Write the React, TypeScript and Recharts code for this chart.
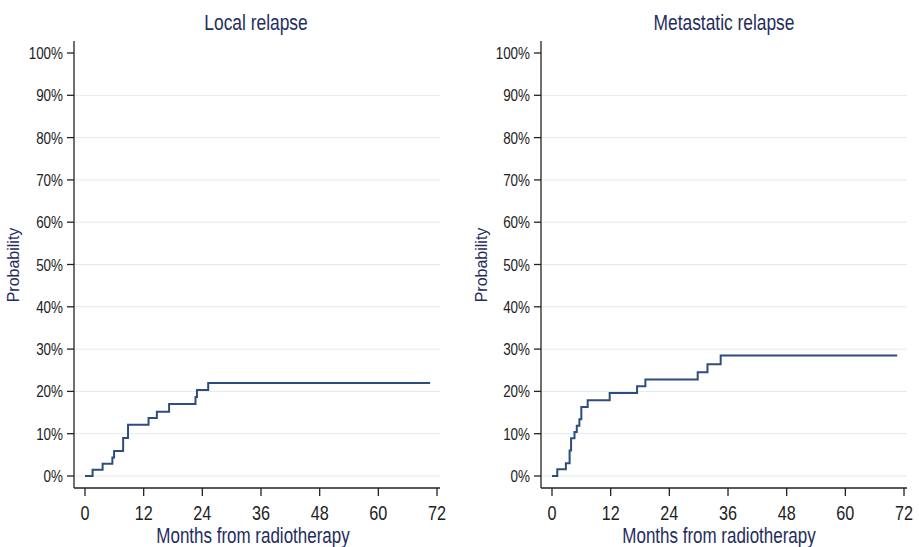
import React from 'react';
import { LineChart, Line, XAxis, YAxis, ReferenceLine } from 'recharts';

const localMonths = [0, 1.55, 3.6, 5.6, 5.95, 7.8, 8.8, 13.0, 14.7, 17.2, 22.6, 22.9, 25.2, 70.6];
const localProb = [0, 1.5, 2.9, 4.4, 5.9, 9.0, 12.1, 13.7, 15.2, 17.0, 18.7, 20.3, 22.0, 22.0];

const metaMonths = [0, 1.08, 2.84, 3.6, 3.9, 4.6, 5.07, 5.6, 6.0, 7.3, 11.8, 17.4, 19.1, 29.8, 31.8, 34.5, 70.6];
const metaProb = [0, 1.6, 3.0, 6.0, 8.9, 10.4, 11.9, 13.4, 16.3, 17.9, 19.6, 21.2, 22.8, 24.5, 26.4, 28.5, 28.5];

const xTicks = [0, 12, 24, 36, 48, 60, 72];
const yTicks = [0, 10, 20, 30, 40, 50, 60, 70, 80, 90, 100];
const gridValues = [0, 10, 20, 30, 40, 50, 60, 70, 80, 90];

const titles = ['Local relapse', 'Metastatic relapse'];
const xTitle = 'Months from radiotherapy';
const yTitle = 'Probability';

const FONT = '"Liberation Sans", Arial, sans-serif';
const NAVY = '#1f2d5e';
const LINE = '#2c4d7e';
const SX = 0.79;

function toRows(xs: number[], ys: number[]) {
  return xs.map((x, i) => ({ m: x, p: ys[i] }));
}

function SText({ x, y, size, anchor, fill, dy, children }: any) {
  return (
    <g transform={`translate(${x},${y}) scale(${SX},1)`}>
      <text x={0} y={0} dy={dy || 0} textAnchor={anchor} fontSize={size} fontFamily={FONT} fill={fill}>
        {children}
      </text>
    </g>
  );
}

function YTick(props: any) {
  const { x, y, payload } = props;
  return (
    <SText x={x} y={y} size={17} anchor="end" fill="#222" dy="0.355em">
      {`${payload.value}%`}
    </SText>
  );
}

function XTick(props: any) {
  const { x, y, payload } = props;
  return (
    <SText x={x} y={y} size={20.5} anchor="middle" fill="#222" dy="0.71em">
      {payload.value}
    </SText>
  );
}

function Panel({ data, width, right }: { data: { m: number; p: number }[]; width: number; right: number }) {
  return (
    <LineChart width={width} height={547} data={data} margin={{ top: 41, right, bottom: 29, left: 0 }}>
      {gridValues.map((g) => (
        <ReferenceLine key={g} y={g} stroke="#e0eaee" strokeWidth={1} />
      ))}
      <XAxis
        dataKey="m"
        type="number"
        domain={[-2.25, 72.61]}
        ticks={xTicks}
        allowDataOverflow
        height={30}
        tickSize={8}
        tickMargin={9}
        axisLine={{ stroke: '#222', strokeWidth: 1.3 }}
        tickLine={{ stroke: '#222', strokeWidth: 1.3 }}
        tick={<XTick />}
        interval={0}
      />
      <YAxis
        type="number"
        domain={[-2.84, 102.84]}
        ticks={yTicks}
        allowDataOverflow
        width={74}
        tickSize={7}
        tickMargin={4}
        axisLine={{ stroke: '#222', strokeWidth: 1.3 }}
        tickLine={{ stroke: '#222', strokeWidth: 1.3 }}
        tick={<YTick />}
        interval={0}
      />
      <Line
        dataKey="p"
        type="stepAfter"
        stroke={LINE}
        strokeWidth={2}
        dot={false}
        isAnimationActive={false}
      />
    </LineChart>
  );
}

export default function App() {
  const localData = toRows(localMonths, localProb);
  const metaData = toRows(metaMonths, metaProb);
  return (
    <div style={{ position: 'absolute', left: 0, top: 0, width: 919, height: 547, background: '#fff' }}>
      <div style={{ position: 'absolute', left: 0, top: 0 }}>
        <Panel data={localData} width={460} right={20} />
      </div>
      <div style={{ position: 'absolute', left: 467, top: 0 }}>
        <Panel data={metaData} width={452} right={12} />
      </div>
      <svg width={919} height={547} style={{ position: 'absolute', left: 0, top: 0, pointerEvents: 'none' }}>
        <SText x={256} y={30} size={22} anchor="middle" fill={NAVY}>{titles[0]}</SText>
        <SText x={724} y={30} size={22} anchor="middle" fill={NAVY}>{titles[1]}</SText>
        <SText x={253} y={543} size={21.5} anchor="middle" fill={NAVY}>{xTitle}</SText>
        <SText x={719} y={543} size={21.5} anchor="middle" fill={NAVY}>{xTitle}</SText>
        <text x={19} y={265} textAnchor="middle" fontSize={16} fontFamily={FONT} fill={NAVY} transform="rotate(-90 19 265)">{yTitle}</text>
        <text x={487} y={265} textAnchor="middle" fontSize={16} fontFamily={FONT} fill={NAVY} transform="rotate(-90 487 265)">{yTitle}</text>
      </svg>
    </div>
  );
}
